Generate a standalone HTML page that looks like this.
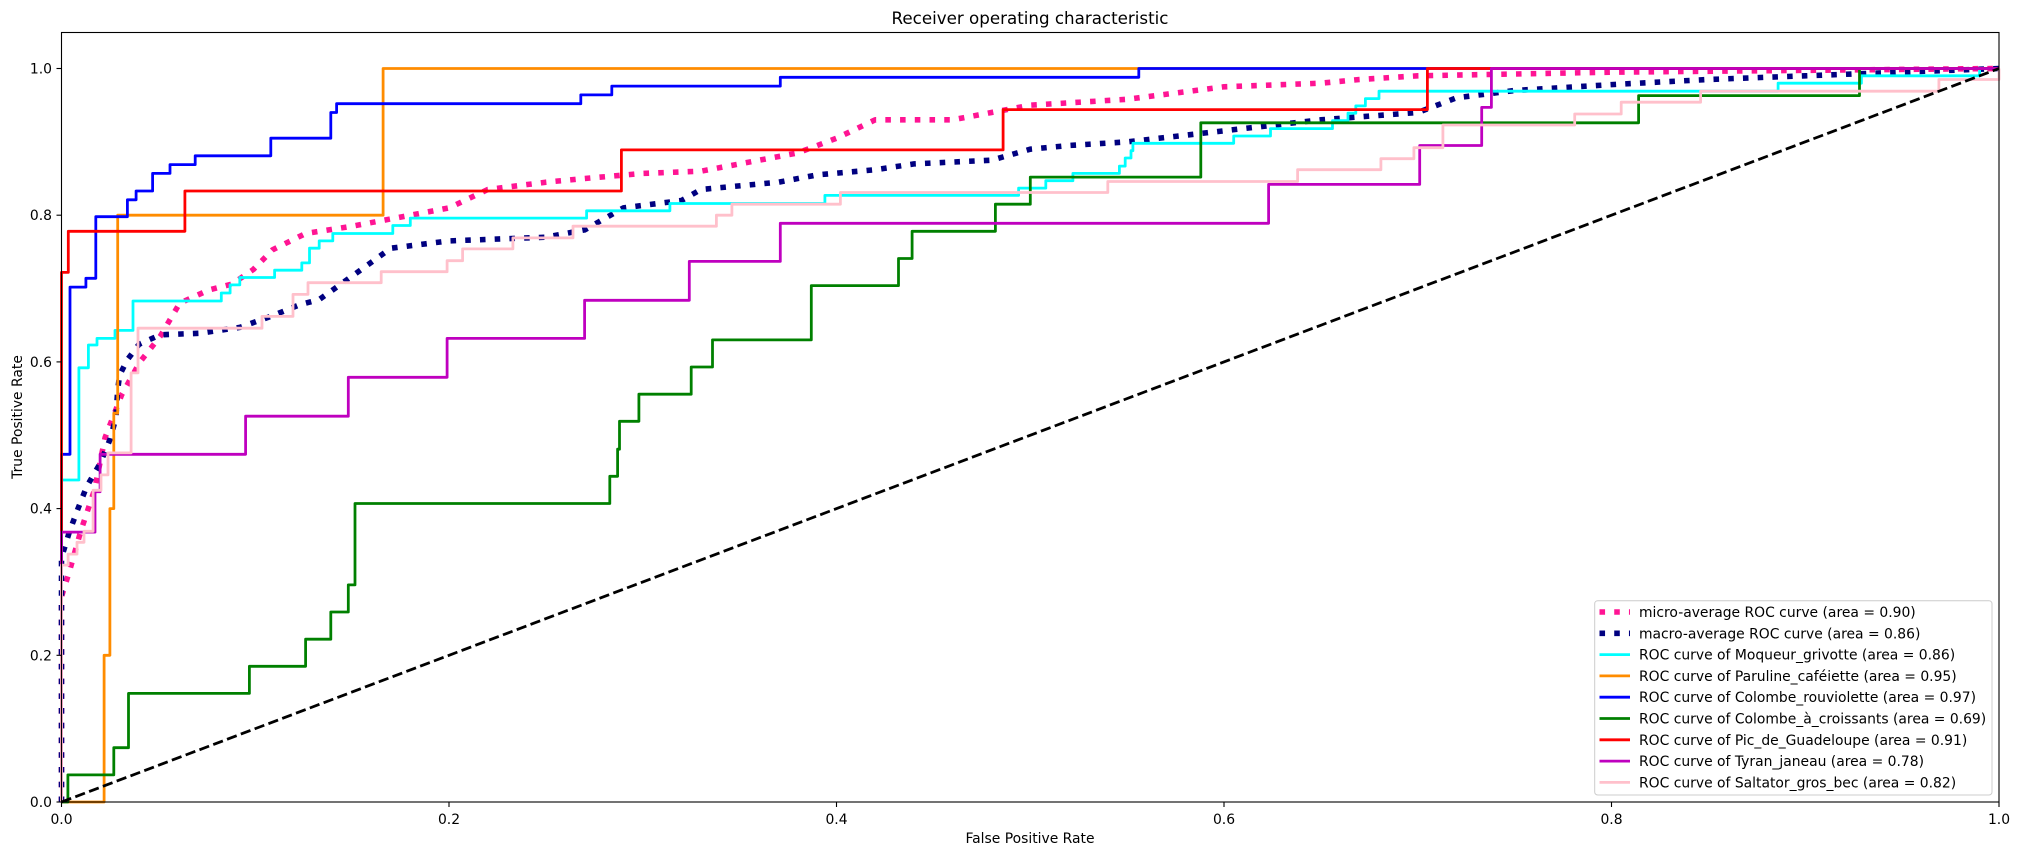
<!DOCTYPE html>
<html><head><meta charset="utf-8"><style>
html,body{margin:0;padding:0;background:#fff;}
svg{display:block;font-family:"DejaVu Sans","Liberation Sans",sans-serif;}
</style></head><body>
<svg id="s" width="2019" height="855" xmlns="http://www.w3.org/2000/svg">
<rect width="2019" height="855" fill="#fff"/>
<g id="curves"></g>
<rect x="61.5" y="32.5" width="1937.5" height="769.5" fill="none" stroke="#000" stroke-width="1.1"/>
<g id="ticks" font-size="13.9" fill="#000"></g>
<text x="1030" y="24" font-size="16.7" text-anchor="middle">Receiver operating characteristic</text>
<text x="1030" y="843" font-size="13.9" text-anchor="middle">False Positive Rate</text>
<text transform="translate(22,417) rotate(-90)" font-size="13.9" text-anchor="middle">True Positive Rate</text>
<rect x="1594.7" y="600.7" width="397.3" height="194.3" rx="3" fill="#fff" fill-opacity="0.8" stroke="#cccccc" stroke-width="1"/>
<g id="legend" font-size="13.9"></g>
</svg>
<script>
var X0=61.5,XS=1937.5,Y0=802,YS=733.5;
function px(x){return X0+x*XS;} function py(y){return Y0-y*YS;}
var NS="http://www.w3.org/2000/svg";
function el(n,a,p){var e=document.createElementNS(NS,n);for(var k in a)e.setAttribute(k,a[k]);p.appendChild(e);return e;}
function steps(a){var r=[];for(var i=0;i<a.length;i+=2)r.push([a[i],a[i+1]]);return r;}
var S={
orange:steps([0,0,0.022,0,0.022,0.2,0.025,0.2,0.025,0.4,0.027,0.4,0.027,0.53,0.029,0.53,0.029,0.8,0.166,0.8,0.166,1,1,1]),
blue:steps([0,0,0,0.474,0.0044,0.474,0.0044,0.702,0.0126,0.702,0.0126,0.714,0.0177,0.714,0.0177,0.798,0.034,0.798,0.034,0.821,0.0385,0.821,0.0385,0.833,0.047,0.833,0.047,0.857,0.056,0.857,0.056,0.869,0.069,0.869,0.069,0.881,0.108,0.881,0.108,0.905,0.139,0.905,0.139,0.94,0.142,0.94,0.142,0.952,0.268,0.952,0.268,0.964,0.284,0.964,0.284,0.976,0.371,0.976,0.371,0.988,0.556,0.988,0.556,1,1,1]),
red:steps([0,0,0,0.722,0.0035,0.722,0.0035,0.778,0.0637,0.778,0.0637,0.833,0.289,0.833,0.289,0.889,0.486,0.889,0.486,0.944,0.705,0.944,0.705,1,1,1]),
green:steps([0,0,0.0033,0,0.0033,0.037,0.027,0.037,0.027,0.074,0.0346,0.074,0.0346,0.148,0.097,0.148,0.097,0.185,0.126,0.185,0.126,0.222,0.139,0.222,0.139,0.259,0.148,0.259,0.148,0.296,0.1515,0.296,0.1515,0.407,0.283,0.407,0.283,0.444,0.287,0.444,0.287,0.481,0.288,0.481,0.288,0.519,0.298,0.519,0.298,0.556,0.325,0.556,0.325,0.593,0.336,0.593,0.336,0.63,0.387,0.63,0.387,0.704,0.432,0.704,0.432,0.741,0.439,0.741,0.439,0.778,0.482,0.778,0.482,0.815,0.5,0.815,0.5,0.852,0.588,0.852,0.588,0.926,0.814,0.926,0.814,0.963,0.928,0.963,0.928,1,1,1]),
m:steps([0,0,0,0.368,0.0173,0.368,0.0173,0.423,0.0199,0.423,0.0199,0.474,0.095,0.474,0.095,0.526,0.148,0.526,0.148,0.579,0.199,0.579,0.199,0.632,0.27,0.632,0.27,0.684,0.324,0.684,0.324,0.737,0.371,0.737,0.371,0.789,0.623,0.789,0.623,0.842,0.701,0.842,0.701,0.895,0.733,0.895,0.733,0.947,0.738,0.947,0.738,1,1,1]),
cyan:steps([0,0,0,0.439,0.009,0.439,0.009,0.592,0.0139,0.592,0.0139,0.623,0.0183,0.623,0.0183,0.632,0.0276,0.632,0.0276,0.643,0.0369,0.643,0.0369,0.683,0.0825,0.683,0.0825,0.694,0.087,0.694,0.087,0.705,0.092,0.705,0.092,0.715,0.11,0.715,0.11,0.725,0.124,0.725,0.124,0.735,0.128,0.735,0.128,0.755,0.133,0.755,0.133,0.765,0.14,0.765,0.14,0.775,0.171,0.775,0.171,0.786,0.18,0.786,0.18,0.796,0.271,0.796,0.271,0.806,0.314,0.806,0.314,0.816,0.394,0.816,0.394,0.827,0.494,0.827,0.494,0.837,0.508,0.837,0.508,0.847,0.522,0.847,0.522,0.857,0.546,0.857,0.546,0.867,0.549,0.867,0.549,0.878,0.552,0.878,0.552,0.888,0.553,0.888,0.553,0.898,0.605,0.898,0.605,0.908,0.624,0.908,0.624,0.918,0.656,0.918,0.656,0.929,0.664,0.929,0.664,0.939,0.668,0.939,0.668,0.949,0.673,0.949,0.673,0.959,0.68,0.959,0.68,0.969,0.886,0.969,0.886,0.98,0.929,0.98,0.929,0.99,0.99,0.99,0.99,1,1,1]),
pink:steps([0,0,0,0.323,0.0034,0.323,0.0034,0.338,0.008,0.338,0.008,0.354,0.0116,0.354,0.0116,0.369,0.0163,0.369,0.0163,0.425,0.0204,0.425,0.0204,0.446,0.024,0.446,0.024,0.476,0.0359,0.476,0.0359,0.585,0.0395,0.585,0.0395,0.646,0.1035,0.646,0.1035,0.662,0.1195,0.662,0.1195,0.692,0.1272,0.692,0.1272,0.708,0.165,0.708,0.165,0.723,0.199,0.723,0.199,0.738,0.207,0.738,0.207,0.754,0.233,0.754,0.233,0.769,0.264,0.769,0.264,0.785,0.338,0.785,0.338,0.8,0.346,0.8,0.346,0.815,0.402,0.815,0.402,0.831,0.54,0.831,0.54,0.846,0.638,0.846,0.638,0.862,0.681,0.862,0.681,0.877,0.698,0.877,0.698,0.892,0.713,0.892,0.713,0.923,0.781,0.923,0.781,0.938,0.805,0.938,0.805,0.954,0.846,0.954,0.846,0.969,0.969,0.969,0.969,0.985,1,0.985,1,1]),
micro:steps([0,0,0,0.28,0.004,0.314,0.01,0.37,0.017,0.425,0.0225,0.497,0.031,0.555,0.0405,0.6,0.051,0.635,0.061,0.68,0.076,0.698,0.088,0.706,0.099,0.726,0.109,0.753,0.126,0.775,0.15,0.785,0.17,0.795,0.2,0.81,0.22,0.835,0.25,0.845,0.27,0.85,0.3,0.857,0.33,0.86,0.35,0.87,0.38,0.885,0.4,0.905,0.42,0.93,0.46,0.93,0.48,0.94,0.5,0.95,0.55,0.958,0.6,0.975,0.65,0.98,0.67,0.985,0.7,0.99,0.8,0.995,1,1]),
macro:steps([0,0,0,0.333,0.004,0.368,0.0085,0.4,0.013,0.43,0.02,0.462,0.025,0.494,0.028,0.523,0.029,0.562,0.03,0.582,0.034,0.603,0.04,0.624,0.051,0.637,0.071,0.639,0.092,0.647,0.108,0.662,0.123,0.678,0.133,0.685,0.15,0.717,0.17,0.755,0.2,0.765,0.25,0.77,0.27,0.78,0.29,0.81,0.32,0.82,0.33,0.835,0.37,0.845,0.39,0.855,0.42,0.862,0.44,0.87,0.48,0.875,0.5,0.89,0.52,0.895,0.55,0.9,0.6,0.915,0.65,0.93,0.7,0.94,0.72,0.96,0.75,0.97,0.8,0.978,0.85,0.985,0.9,0.99,1,1])
};
var g=document.getElementById("curves");
function line(pts,color,w,dash){var d=pts.map(function(p,i){return (i?"L":"M")+px(p[0]).toFixed(1)+" "+py(p[1]).toFixed(1);}).join("");
var a={d:d,fill:"none",stroke:color,"stroke-width":w,"stroke-linejoin":"round"};if(dash){a["stroke-dasharray"]=dash;}el("path",a,g);}
line(S.micro,"deeppink",5.56,"5.56 9.17");
line(S.macro,"navy",5.56,"5.56 9.17");
line(S.cyan,"aqua",2.78);
line(S.orange,"darkorange",2.78);
line(S.blue,"blue",2.78);
line(S.green,"green",2.78);
line(S.red,"red",2.78);
line(S.m,"m"=="m"?"#bf00bf":"",2.78);
line(S.pink,"pink",2.78);
line([[0,0],[1,1]],"black",2.78,"10.3 4.45");
var t=document.getElementById("ticks");
for(var i=0;i<=5;i++){var v=i*0.2,lab=v.toFixed(1);
var x=px(v);el("line",{x1:x,x2:x,y1:802,y2:807,stroke:"#000","stroke-width":1.1},t);
var e=el("text",{x:x,y:824,"text-anchor":"middle"},t);e.textContent=lab;
var y=py(v);el("line",{x1:56.5,x2:61.5,y1:y,y2:y,stroke:"#000","stroke-width":1.1},t);
e=el("text",{x:52,y:y+5,"text-anchor":"end"},t);e.textContent=lab;}
var L=document.getElementById("legend");
var items=[["micro-average ROC curve (area = 0.90)","deeppink",1],["macro-average ROC curve (area = 0.86)","navy",1],
["ROC curve of Moqueur_grivotte (area = 0.86)","aqua"],["ROC curve of Paruline_caféiette (area = 0.95)","darkorange"],
["ROC curve of Colombe_rouviolette (area = 0.97)","blue"],["ROC curve of Colombe_à_croissants (area = 0.69)","green"],
["ROC curve of Pic_de_Guadeloupe (area = 0.91)","red"],["ROC curve of Tyran_janeau (area = 0.78)","#bf00bf"],
["ROC curve of Saltator_gros_bec (area = 0.82)","pink"]];
items.forEach(function(it,i){var y=612+i*21.3;
if(it[2]){el("line",{x1:1599.5,x2:1630,y1:y,y2:y,stroke:it[1],"stroke-width":5.56,"stroke-dasharray":"5.56 9.17"},L);}
else el("line",{x1:1599.5,x2:1630,y1:y,y2:y,stroke:it[1],"stroke-width":2.78},L);
var e=el("text",{x:1639,y:y+5},L);e.textContent=it[0];});
</script>
</body></html>
